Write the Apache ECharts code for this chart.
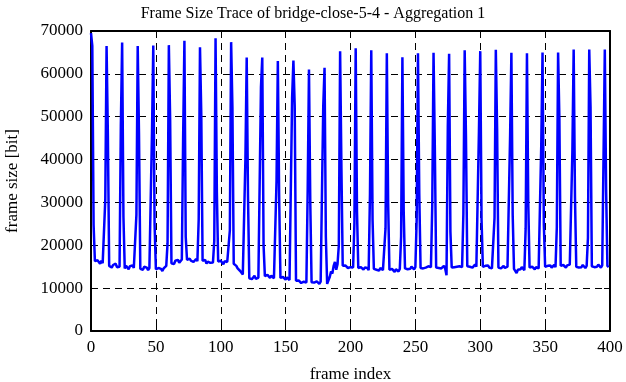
<!DOCTYPE html>
<html>
<head>
<meta charset="utf-8">
<script src="https://cdn.jsdelivr.net/npm/echarts@6/dist/echarts.min.js"></script>
<style>
  html, body { margin: 0; padding: 0; background: #fff; }
  #chart { width: 626px; height: 382px; }
</style>
</head>
<body>
<div id="chart"></div>
<script>
// frame sizes in bit, one row per GOP of 12 frames
var frameSize = [
  69500, 66500, 24800, 16300, 15900, 16500, 16100, 15700, 16400, 15800, 16200, 30600,
  66500, 45800, 15200, 15600, 14800, 15400, 15100, 15700, 14900, 15300, 15000, 48000,
  67300, 26700, 14600, 15200, 14900, 14400, 15100, 14800, 15300, 14700, 15000, 27100,
  66500, 45800, 14500, 14900, 14300, 15000, 14600, 14800, 14200, 14700, 15100, 46200,
  66600, 25000, 14400, 14100, 14700, 14300, 14500, 14000, 14600, 14800, 15200, 20500,
  66700, 49300, 15800, 16200, 15600, 16400, 16000, 16600, 15900, 16300, 16700, 45000,
  67700, 22000, 16600, 16200, 16900, 16400, 16700, 16100, 16500, 16800, 16300, 26000,
  66200, 50400, 16400, 16000, 16600, 15700, 16200, 16500, 15900, 16300, 16000, 21000,
  68300, 32500, 16200, 15800, 16400, 16000, 15600, 16300, 15900, 16100, 15700, 23400,
  67400, 52000, 15700, 16100, 15200, 14600, 14900, 14000, 13600, 13200, 12800, 40000,
  63800, 31400, 12300, 12700, 12100, 12500, 12900, 12200, 12600, 12400, 12800, 57000,
  63800, 20000, 12800, 12500, 13100, 12700, 12400, 12900, 12600, 12300, 12700, 35100,
  63000, 31400, 12400, 12100, 12600, 12200, 12000, 12500, 12300, 11900, 12200, 54400,
  63100, 52500, 11700, 11300, 11800, 11400, 11200, 11600, 11500, 11800, 11300, 32800,
  61000, 30000, 11400, 11700, 11300, 11100, 11600, 11400, 11000, 11500, 11200, 52500,
  61400, 22000, 11000, 11800, 12600, 13900, 13400, 15200, 16100, 14300, 15600, 20000,
  65300, 38100, 15200, 14800, 15300, 15000, 14700, 15100, 14900, 15300, 14800, 25000,
  66000, 28000, 14700, 14400, 14900, 14600, 14300, 14800, 14500, 14700, 14200, 31800,
  65500, 26000, 14500, 14800, 14300, 14600, 14100, 14700, 14400, 14200, 14600, 24000,
  64800, 30000, 14300, 13900, 14500, 14100, 13800, 14400, 14200, 13900, 14500, 22000,
  63900, 28000, 14600, 14900, 14400, 14800, 14500, 15000, 14700, 14400, 14900, 26000,
  64800, 32000, 14700, 15000, 14600, 14900, 14800, 14500, 15100, 14700, 14900, 29200,
  64900, 42600, 14800, 15100, 14700, 15000, 14600, 14900, 15200, 14500, 13000, 47800,
  64700, 23200, 14800, 15200, 14900, 15300, 15000, 14700, 15100, 15400, 14900, 27400,
  65500, 45100, 15100, 15400, 15000, 15300, 14800, 15200, 15500, 15000, 15300, 46800,
  65300, 26000, 15000, 14700, 15200, 14900, 15300, 14800, 15100, 14600, 15000, 26400,
  65600, 47000, 14800, 15100, 14600, 14900, 15200, 14700, 14500, 15000, 14800, 45400,
  64900, 27100, 14500, 14800, 13500, 14300, 14700, 14400, 14900, 14600, 14200, 24000,
  64800, 30000, 14800, 14500, 15000, 14700, 14400, 14900, 15100, 14600, 14800, 43100,
  65000, 25000, 15000, 14700, 15200, 14900, 15300, 14800, 15100, 15400, 14900, 24100,
  65000, 49300, 15200, 14900, 15400, 15100, 14800, 15300, 15000, 15500, 15200, 41900,
  65700, 31400, 15000, 15300, 14800, 15200, 14900, 15400, 15100, 14700, 15200, 21700,
  65700, 52200, 15100, 15400, 14900, 15300, 15000, 15500, 15200, 14800, 15300, 40400,
  65700, 33000, 15200, 14900
]
var xTicks = [0, 50, 100, 150, 200, 250, 300, 350, 400]
var yTicks = [0, 10000, 20000, 30000, 40000, 50000, 60000, 70000]

var font = 'Liberation Serif'
var points = frameSize.map(function(v, i) { return [i, v] })

var chart = echarts.init(document.getElementById('chart'))
var dashed = { show: true, lineStyle: { color: '#000', width: 1, type: [7, 5] } }
var axisLine = { show: true, onZero: false, lineStyle: { color: '#000', width: 2 } }
var tick = { show: true, inside: true, length: 6, lineStyle: { color: '#000', width: 1 } }
var plain = function(v) { return String(v) }

chart.setOption({
  animation: false,
  title: {
    text: 'Frame Size Trace of bridge-close-5-4 - Aggregation 1',
    left: 'center',
    top: 1,
    textStyle: { fontFamily: font, fontSize: 16, fontWeight: 'normal', color: '#000' }
  },
  grid: { left: 91, right: 16, top: 31, bottom: 51, containLabel: false, outerBoundsMode: 'none' },
  xAxis: [
    {
      type: 'value',
      min: xTicks[0],
      max: xTicks[xTicks.length - 1],
      interval: 50,
      name: 'frame index',
      nameLocation: 'middle',
      nameGap: 35,
      nameTextStyle: { fontFamily: font, fontSize: 17, color: '#000' },
      axisLine: axisLine,
      axisTick: tick,
      axisLabel: { fontFamily: font, fontSize: 17, color: '#000', margin: 8, formatter: plain },
      splitLine: dashed
    },
    {
      type: 'value',
      position: 'top',
      min: xTicks[0],
      max: xTicks[xTicks.length - 1],
      interval: 50,
      axisLine: axisLine,
      axisTick: tick,
      axisLabel: { show: false },
      splitLine: { show: false }
    }
  ],
  yAxis: [
    {
      type: 'value',
      min: yTicks[0],
      max: yTicks[yTicks.length - 1],
      interval: 10000,
      name: 'frame size [bit]',
      nameLocation: 'middle',
      nameGap: 70,
      nameRotate: 90,
      nameTextStyle: { fontFamily: font, fontSize: 17, color: '#000' },
      axisLine: axisLine,
      axisTick: tick,
      axisLabel: { fontFamily: font, fontSize: 17, color: '#000', margin: 8, formatter: plain },
      splitLine: dashed
    },
    {
      type: 'value',
      position: 'right',
      min: yTicks[0],
      max: yTicks[yTicks.length - 1],
      interval: 10000,
      axisLine: axisLine,
      axisTick: tick,
      axisLabel: { show: false },
      splitLine: { show: false }
    }
  ],
  series: [
    {
      type: 'line',
      data: points,
      showSymbol: false,
      lineStyle: { color: '#0000ff', width: 2.5 },
      z: 3
    }
  ]
})
</script>
</body>
</html>
